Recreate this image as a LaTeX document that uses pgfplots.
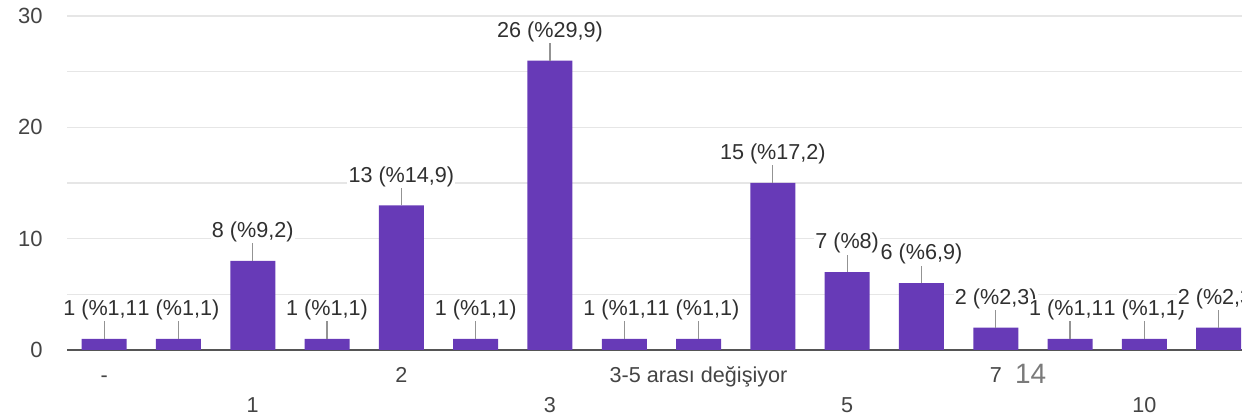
\documentclass[border=0pt]{standalone}
\usepackage{pgfplots}
\pgfplotsset{compat=1.18}
\usepackage{fontspec}
\setmainfont{Liberation Sans}
\definecolor{barc}{HTML}{673AB7}
\definecolor{gridc}{HTML}{E6E6E6}
\definecolor{tickc}{HTML}{444444}
\definecolor{labc}{HTML}{303030}
\definecolor{axc}{HTML}{555555}
\definecolor{extc}{HTML}{7A7A7A}
\begin{document}
\fontsize{10.8}{13}\selectfont
\begin{tikzpicture}
\useasboundingbox (0,0) rectangle (621pt,207.5pt);
\clip (0,0) rectangle (621pt,207.5pt);
\begin{axis}[
  at={(33.5pt,32.5pt)}, anchor=south west,
  scale only axis, width=594.4pt, height=167pt,
  xmin=-0.5, xmax=15.5, ymin=0, ymax=30,
  clip=false,
  ybar, bar width=22.5pt,
  axis lines*=left,
  y axis line style={draw=none},
  x axis line style={draw=axc, line width=1pt},
  ytick={0,10,20,30}, minor ytick={5,15,25},
  ymajorgrids, yminorgrids,
  major grid style={draw=gridc, line width=0.6pt},
  minor grid style={draw=gridc, line width=0.6pt},
  major tick length=0pt, minor tick length=0pt,
  xtick style={draw=none}, ytick style={draw=none},
  /pgf/number format/assume math mode=true,
  yticklabel style={font=\fontsize{11}{13}\selectfont, color=tickc, anchor=east, inner sep=0pt, xshift=-12pt},
  xtick={0,4,8,12},
  xticklabels={-,2,3-5 arası değişiyor,7},
  xticklabel style={font=\fontsize{10.8}{13}\selectfont, color=tickc, anchor=base, inner sep=0pt, yshift=-16.5pt},
  extra x ticks={2,6,10,14},
  extra x tick labels={1,3,5,10},
  extra x tick style={xticklabel style={yshift=-15pt}, grid=none},
  nodes near coords, point meta=explicit symbolic,
  every node near coord/.append style={font=\fontsize{10.8}{13}\selectfont, color=labc, fill=white, inner sep=0.6pt, anchor=base, yshift=11.6pt},
]
\addplot[fill=barc, draw=none,
  error bars/.cd, y dir=plus, y fixed=1.6, error mark=none,
  error bar style={draw=gray!85, line width=0.6pt}]
coordinates {
(0,1) [1 (\%1,1)]
(1,1) [1 (\%1,1)]
(2,8) [8 (\%9,2)]
(3,1) [1 (\%1,1)]
(4,13) [13 (\%14,9)]
(5,1) [1 (\%1,1)]
(6,26) [26 (\%29,9)]
(7,1) [1 (\%1,1)]
(8,1) [1 (\%1,1)]
(9,15) [15 (\%17,2)]
(10,7) [7 (\%8)]
(11,6) [6 (\%6,9)]
(12,2) [2 (\%2,3)]
(13,1) [1 (\%1,1)]
(14,1) [1 (\%1,1)]
(15,2) [2 (\%2,3)]
};
\node[font=\fontsize{14}{16}\selectfont, color=extc, anchor=center] at (axis cs:12.47,-2.1) {14};
\end{axis}
\end{tikzpicture}
\end{document}
